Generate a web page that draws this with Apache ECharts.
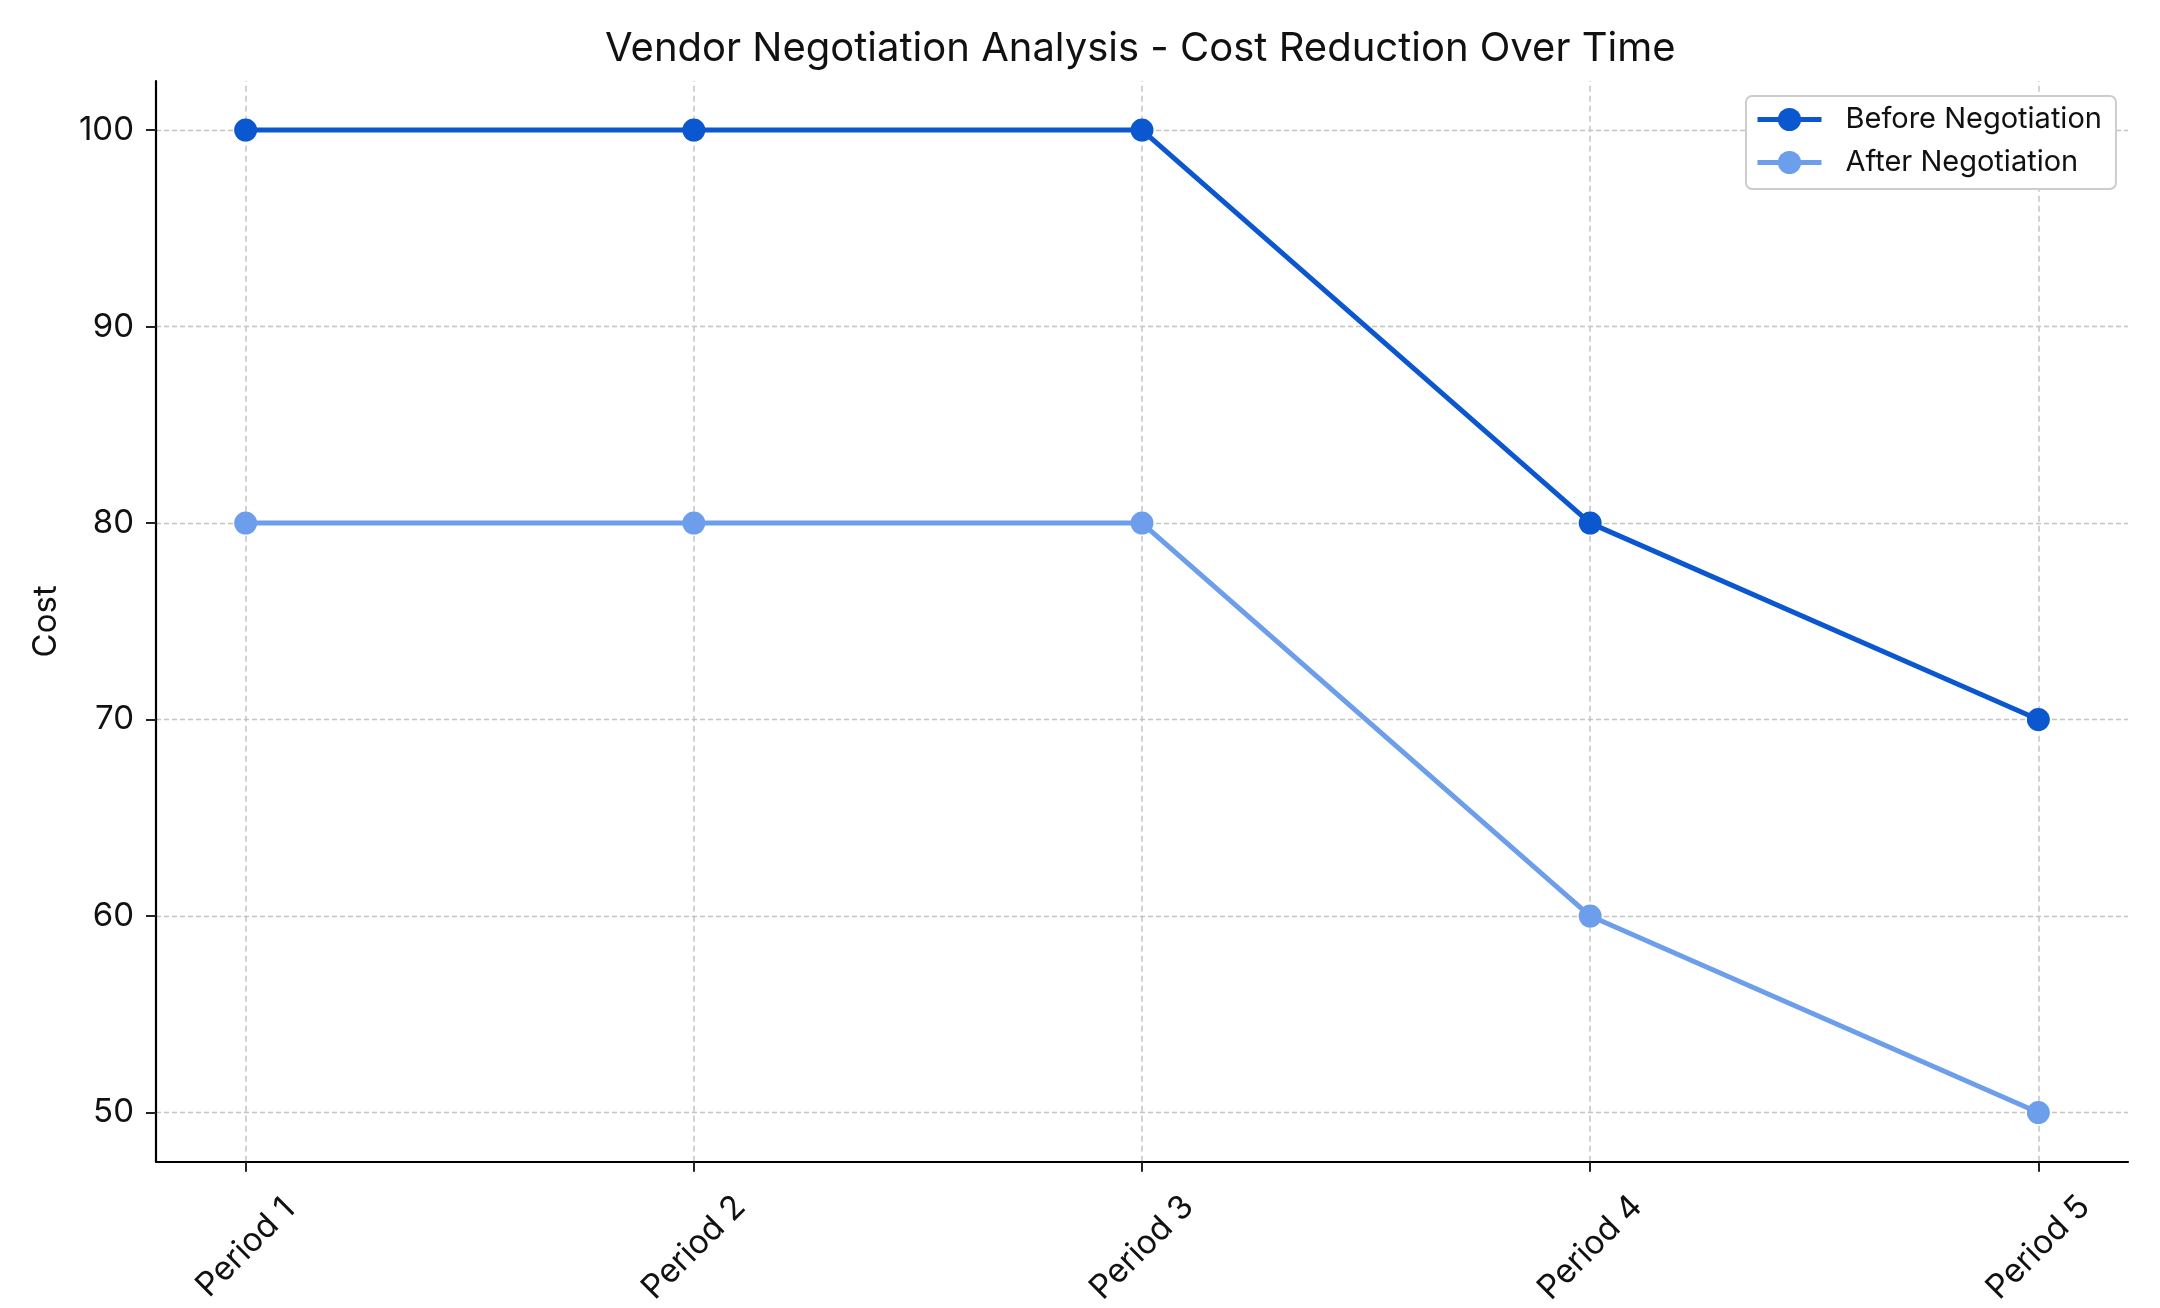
<!DOCTYPE html>
<html><head><meta charset="utf-8">
<script src="https://cdn.jsdelivr.net/npm/echarts@6/dist/echarts.min.js"></script>
<style>html,body{margin:0;padding:0;background:#fff}#c{width:2160px;height:1308px}</style>
</head><body><div id="c"></div>
<script>
const categories = ['Period 1', 'Period 2', 'Period 3', 'Period 4', 'Period 5'];
const beforeNegotiation = [100, 100, 100, 80, 70];
const afterNegotiation = [80, 80, 80, 60, 50];
const yTicks = [50, 60, 70, 80, 90, 100];
const chartTitle = 'Vendor Negotiation Analysis - Cost Reduction Over Time';
const yName = 'Cost';

const FONT = 'Inter, "Noto Sans", sans-serif';
const xIdx = categories.map((_, i) => i);
const toPairs = arr => arr.map((v, i) => [i, v]);

const chart = echarts.init(document.getElementById('c'), null, {renderer: 'canvas'});
const gridLine = {type: [5, 3], color: '#c4c4c4', width: 1.4};
chart.setOption({
  backgroundColor: '#ffffff',
  animation: false,
  title: {
    text: chartTitle, left: 605, top: 29, padding: 0,
    textStyle: {fontFamily: FONT, fontSize: 40, fontWeight: 'normal', color: '#111'}
  },
  legend: {
    orient: 'vertical', left: 1746, top: 96, z: 20,
    padding: [9, 14, 12, 9], itemGap: 14, itemWidth: 64, itemHeight: 29,
    borderColor: '#cccccc', borderWidth: 2, borderRadius: 6, backgroundColor: '#fff',
    lineStyle: {width: 5},
    textStyle: {fontFamily: FONT, fontSize: 29, color: '#111', padding: [0, 0, 0, 19]},
    data: ['Before Negotiation', 'After Negotiation']
  },
  grid: {left: 156, right: 32, top: 81, bottom: 142, containLabel: false},
  xAxis: {
    type: 'value', min: -0.2, max: 4.2,
    axisLine: {onZero: false, lineStyle: {color: '#000', width: 2.2}},
    axisTick: {customValues: xIdx, length: 10, lineStyle: {color: '#222', width: 2}},
    axisLabel: {
      customValues: xIdx, formatter: v => categories[Math.round(v)] || '',
      rotate: 45, align: 'center', verticalAlign: 'middle', margin: 86,
      fontFamily: FONT, fontSize: 33, color: '#111'
    },
    splitLine: {show: false}
  },
  yAxis: {
    type: 'value', min: 47.5, max: 102.5,
    name: yName, nameLocation: 'middle', nameGap: 93, nameRotate: 90,
    nameTextStyle: {fontFamily: FONT, fontSize: 33, color: '#111'},
    axisLine: {show: true, onZero: false, lineStyle: {color: '#000', width: 2.2}},
    axisTick: {show: true, customValues: yTicks, length: 10, lineStyle: {color: '#222', width: 2}},
    axisLabel: {customValues: yTicks, margin: 22, fontFamily: FONT, fontSize: 33, color: '#111'},
    splitLine: {show: false}
  },
  series: [
    {
      type: 'line', name: '__grid', data: [], z: 0, silent: true,
      markLine: {
        silent: true, z: 0, symbol: ['none', 'none'], label: {show: false}, animation: false,
        data: xIdx.map(i => ({xAxis: i, lineStyle: {type: [6, 4], color: '#d2d2d2', width: 2}}))
          .concat(yTicks.map(v => ({yAxis: v, lineStyle: gridLine})))
      }
    },
    {
      type: 'line', name: 'Before Negotiation', data: toPairs(beforeNegotiation), z: 6,
      symbol: 'circle', symbolSize: 23,
      lineStyle: {color: '#0b57d0', width: 5}, itemStyle: {color: '#0b57d0'}
    },
    {
      type: 'line', name: 'After Negotiation', data: toPairs(afterNegotiation), z: 5,
      symbol: 'circle', symbolSize: 23,
      lineStyle: {color: '#6d9eeb', width: 5}, itemStyle: {color: '#6d9eeb'}
    }
  ]
});
</script></body></html>
